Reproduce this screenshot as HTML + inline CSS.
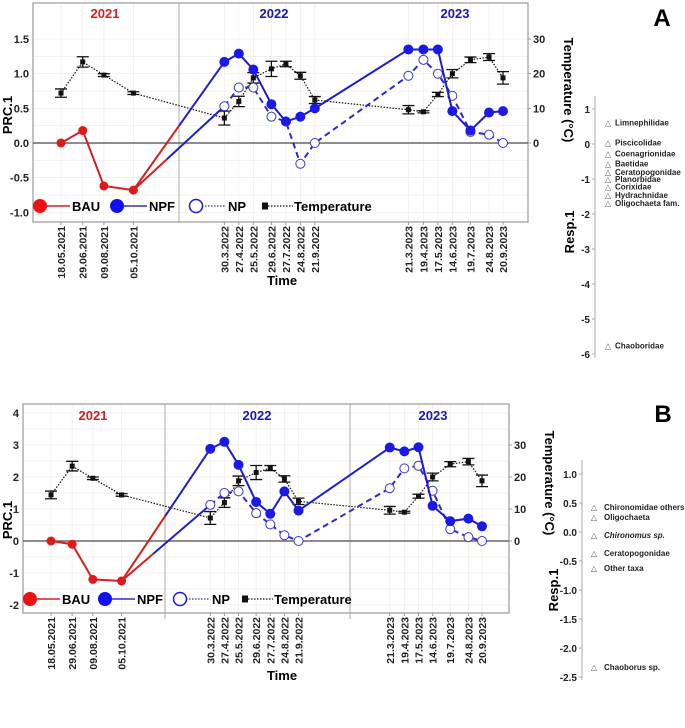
<!DOCTYPE html>
<html><head><meta charset="utf-8"><style>
body{margin:0;background:#fff;}
svg text{font-family:"Liberation Sans",Arial,sans-serif;}
</style></head><body>
<svg id="fig" width="685" height="723" viewBox="0 0 685 723" xmlns="http://www.w3.org/2000/svg"></svg>
<script>
const dates=["18.05.2021","29.06.2021","09.08.2021","05.10.2021","30.3.2022","27.4.2022","25.5.2022","29.6.2022","27.7.2022","24.8.2022","21.9.2022","21.3.2023","19.4.2023","17.5.2023","14.6.2023","19.7.2023","24.8.2023","20.9.2023"];
const tempVals=[14.4,23.4,19.6,14.4,7.2,12,18.8,21.4,22.8,19.4,12.4,9.6,9,14,20,24,24.8,18.8];
const tempErr=[1.2,1.5,0.4,0.4,2,1.5,1.5,2.2,0.8,1,1,1.2,0.3,0.6,1.2,0.8,1,1.8];
const bauA=[0,0.18,-0.62,-0.68];
const npfA=[1.17,1.29,1.06,0.56,0.31,0.38,0.50,1.35,1.35,1.35,0.46,0.18,0.44,0.46];
const npA=[0.53,0.80,0.80,0.38,0.31,-0.30,0.0,0.97,1.20,1.00,0.68,0.16,0.12,0.0];
const bauB=[0,-0.1,-1.2,-1.25];
const npfB=[2.88,3.1,2.38,1.22,0.85,1.55,0.95,2.92,2.8,2.93,1.1,0.62,0.7,0.46];
const npB=[1.13,1.5,1.55,0.87,0.52,0.18,0.0,1.65,2.27,2.35,1.57,0.37,0.12,0.0];
const taxaA=["Limnephilidae","Piscicolidae","Coenagrionidae","Baetidae","Ceratopogonidae","Planorbidae","Corixidae","Hydrachnidae","Oligochaeta fam.","Chaoboridae"];
const respA=[0.62,0.05,-0.27,-0.55,-0.8,-1.0,-1.22,-1.45,-1.68,-5.75];
const taxaB=["Chironomidae others","Oligochaeta","Chironomus sp.","Ceratopogonidae","Other taxa","Chaoborus sp."];
const respB=[0.43,0.26,-0.05,-0.36,-0.62,-2.33];

const NS="http://www.w3.org/2000/svg";
const svg=document.getElementById('fig');
function el(tag,attrs,parent,txt){const e=document.createElementNS(NS,tag);for(const k in attrs)e.setAttribute(k,attrs[k]);if(txt!==undefined)e.textContent=txt;(parent||svg).appendChild(e);return e;}
function dnum(s){const p=s.split('.');return Date.UTC(+p[2],+p[1]-1,+p[0])/864e5;}
const d0=dnum(dates[0]),d1=dnum(dates[dates.length-1]);

function panel(P){
  const g=el('g',{});
  
  
  const X=i=>P.x0+(dnum(dates[i])-d0)/(d1-d0)*(P.x1-P.x0);
  const Y=v=>P.y0-v*P.unit;
  const YT=t=>Y(t/P.tScale);
  for(let v=P.ymin;v<=P.ymax+1e-9;v+=P.ystep/2){el('line',{x1:P.L,x2:P.R,y1:Y(v),y2:Y(v),stroke:'#ececec','stroke-width':0.7},g);}
  dates.forEach((d,i)=>el('line',{x1:X(i),x2:X(i),y1:P.T,y2:P.B,stroke:'#ececec','stroke-width':0.7},g));
  P.dividers.forEach(x=>el('line',{x1:x,x2:x,y1:P.T,y2:P.B+(P.divExt||0),stroke:'#aaa','stroke-width':1},g));
  el('rect',{x:P.L,y:P.T,width:P.R-P.L,height:P.B-P.T,fill:'none',stroke:'#999','stroke-width':1.2},g);
  el('line',{x1:P.L,x2:P.R,y1:Y(0),y2:Y(0),stroke:'#666','stroke-width':1.5},g);
  for(let v=P.ymin;v<=P.ymax+1e-9;v+=P.ystep){const t=el('text',{x:P.L-4,y:Y(v)+4,'text-anchor':'end','font-size':11,'font-weight':'bold',fill:'#222'},g,P.fmt(v));}
  for(let t=0;t<=30;t+=10){el('line',{x1:P.R,x2:P.R+3,y1:YT(t),y2:YT(t),stroke:'#999'},g);el('text',{x:P.R+5,y:YT(t)+4,'font-size':11,'font-weight':'bold',fill:'#222'},g,String(t));}
  const yl=el('text',{transform:`translate(${P.ylabX},${P.ylabY}) rotate(-90)`,'text-anchor':'middle','font-size':13,'font-weight':'bold'},g,'PRC.1');
  
  const tl=el('text',{transform:`translate(${P.tempLabX},${P.tempLabY}) rotate(90)`,'text-anchor':'middle','font-size':13,'font-weight':'bold'},g,'Temperature (°C)');
  
  P.years.forEach(([t,x,c])=>{const e=el('text',{x:x,y:P.yearY,'text-anchor':'middle','font-size':13,'font-weight':'bold',fill:c},g,t);});
  dates.forEach((d,i)=>{el('line',{x1:X(i),x2:X(i),y1:P.B,y2:P.B+3,stroke:'#999'},g);const e=el('text',{transform:`translate(${X(i)+4},${P.B+4}) rotate(-90)`,'text-anchor':'end','font-size':10.5,'font-weight':'bold',fill:'#222'},g,d);});
  const xt=el('text',{x:282,y:P.timeY,'text-anchor':'middle','font-size':13,'font-weight':'bold'},g,'Time');
  
  let tp=tempVals.map((t,i)=>X(i)+','+YT(t)).join(' ');
  const tline=el('polyline',{points:tp,fill:'none',stroke:'#111','stroke-width':1.2,'stroke-dasharray':'1.5,1.5'},g);
  
  tempVals.forEach((t,i)=>{const x=X(i),a=YT(t+tempErr[i]),b=YT(t-tempErr[i]);
    el('path',{d:`M${x},${a}V${b}M${x-6},${a}H${x+6}M${x-6},${b}H${x+6}`,stroke:'#111','stroke-width':1.3,fill:'none'},g);
    const r=el('rect',{x:x-2.5,y:YT(t)-2.5,width:5,height:5,fill:'#111'},g);});
  const bx=i=>X(i);
  el('polyline',{points:P.bau.map((v,i)=>bx(i)+','+Y(v)).join(' '),fill:'none',stroke:'#d42020','stroke-width':2},g);
  const lx=X(3),ly=Y(P.bau[3]);
  [[P.npf[0],P.dividers[0]],[P.np[0],P.dividers[0]-12]].forEach(([v,mx])=>{const tx=X(4),ty=Y(v);const f=(mx-lx)/(tx-lx);const my=ly+(ty-ly)*f;
    el('line',{x1:lx,y1:ly,x2:mx,y2:my,stroke:'#d42020','stroke-width':2},g);el('line',{x1:mx,y1:my,x2:tx,y2:ty,stroke:'#2020c8','stroke-width':2},g);});
  P.bau.forEach((v,i)=>{const c=el('circle',{cx:bx(i),cy:Y(v),r:4.5,fill:'#e01818'},g);});
  const off=4;
  el('polyline',{points:P.np.map((v,i)=>X(i+off)+','+Y(v)).join(' '),fill:'none',stroke:'#2a2ad0','stroke-width':2,'stroke-dasharray':'6,4'},g);
  P.np.forEach((v,i)=>{const c=el('circle',{cx:X(i+off),cy:Y(v),r:4.5,fill:'#fff',stroke:'#3838d0','stroke-width':1},g);});
  el('polyline',{points:P.npf.map((v,i)=>X(i+off)+','+Y(v)).join(' '),fill:'none',stroke:'#1c1cd0','stroke-width':2},g);
  P.npf.forEach((v,i)=>{const c=el('circle',{cx:X(i+off),cy:Y(v),r:5,fill:'#1a1ae8'},g);});
  const ly2=P.legY,lg=el('g',{},g);
  const items=[['BAU',P.legX[0],'bau'],['NPF',P.legX[1],'npf'],['NP',P.legX[2],'np'],['Temperature',P.legX[3],'temp']];
  items.forEach(([t,x,k])=>{
    if(k==='bau'){el('line',{x1:x,x2:x+30,y1:ly2,y2:ly2,stroke:'#d42020','stroke-width':1.5},lg);el('circle',{cx:x,cy:ly2,r:7,fill:'#f01010'},lg);}
    if(k==='npf'){el('line',{x1:x,x2:x+30,y1:ly2,y2:ly2,stroke:'#3030c0','stroke-width':1.5},lg);el('circle',{cx:x,cy:ly2,r:7,fill:'#1010f0'},lg);}
    if(k==='np'){el('line',{x1:x,x2:x+30,y1:ly2,y2:ly2,stroke:'#3030c0','stroke-width':1.2,'stroke-dasharray':'1.5,1.5'},lg);el('circle',{cx:x,cy:ly2,r:6.5,fill:'#fff',stroke:'#1a1ad0','stroke-width':1.5},lg);}
    if(k==='temp'){el('line',{x1:x,x2:x+28,y1:ly2,y2:ly2,stroke:'#111','stroke-width':1.2,'stroke-dasharray':'1.5,1.5'},lg);el('rect',{x:x-3,y:ly2-3.5,width:6,height:7,fill:'#111'},lg);}
    const e=el('text',{x:x+(k==='temp'?29:32),y:ly2+5,'font-size':13,'font-weight':'bold'},lg,t);
  });
  const S=P.sp,SY=v=>S.y0-v*S.unit;
  const sg=el('g',{},g);
  el('line',{x1:S.x,x2:S.x,y1:S.top,y2:S.bot,stroke:'#aaa','stroke-width':1},sg);
  S.ticks.forEach(v=>{el('line',{x1:S.x-3,x2:S.x,y1:SY(v),y2:SY(v),stroke:'#aaa'},sg);el('text',{x:S.x-5,y:SY(v)+4,'text-anchor':'end','font-size':10,'font-weight':'bold',fill:'#222'},sg,S.fmt(v));});
  el('text',{transform:`translate(${S.labX},${S.labY}) rotate(-90)`,'text-anchor':'middle','font-size':13,'font-weight':'bold'},sg,'Resp.1');
  S.taxa.forEach((t,i)=>{const y=SY(S.resp[i]);
    el('text',{x:S.x+S.tri,y:y+3,'text-anchor':'middle','font-size':8,fill:'#555'},sg,'△');
    const e=el('text',{x:S.x+S.tx,y:y+3,'font-size':8,'font-weight':'bold','font-style':t==='Chironomus sp.'?'italic':'normal',fill:'#222'},sg,t);
    });
  const pl=el('text',{x:P.letter[0],y:P.letter[1],'text-anchor':'middle','font-size':24,'font-weight':'bold'},g,P.letterT);
  
}

panel({name:'panel-a',L:33,R:528,T:3,B:222,x0:61,x1:503,y0:143,unit:69.3,tScale:20,ymin:-1,ymax:1.5,ystep:0.5,fmt:v=>v.toFixed(1),
  ylabX:12,ylabY:115,tempLabX:564,tempLabY:90,dividers:[179],yearY:18,timeY:285,
  years:[['2021',105,'#d42020'],['2022',274,'#1a1ab0'],['2023',455,'#1a1ab0']],
  bau:bauA,npf:npfA,np:npA,legY:206,legX:[40,117,196,265],letterT:'A',letter:[662,26],
  sp:{x:595,y0:144,unit:35,top:96,bot:358,ticks:[1,0,-1,-2,-3,-4,-5,-6],fmt:v=>String(v),labX:574,labY:232,tri:13,tx:20,taxa:taxaA,resp:respA}});
panel({name:'panel-b',L:23,R:509,T:404,B:613,x0:51,x1:482,y0:541,unit:32,tScale:10,ymin:-2,ymax:4,ystep:1,fmt:v=>String(v),
  ylabX:12,ylabY:520,tempLabX:545,tempLabY:483,dividers:[165,350],divExt:6,yearY:420,timeY:680,
  years:[['2021',93,'#d42020'],['2022',257,'#1a1ab0'],['2023',433,'#1a1ab0']],
  bau:bauB,npf:npfB,np:npB,legY:599,legX:[30,105,180,245],letterT:'B',letter:[663,422],
  sp:{x:582,y0:532,unit:58,top:460,bot:680,ticks:[1,0.5,0,-0.5,-1,-1.5,-2,-2.5],fmt:v=>v.toFixed(1),labX:558,labY:590,tri:12,tx:22,taxa:taxaB,resp:respB}});
</script>
</body></html>
